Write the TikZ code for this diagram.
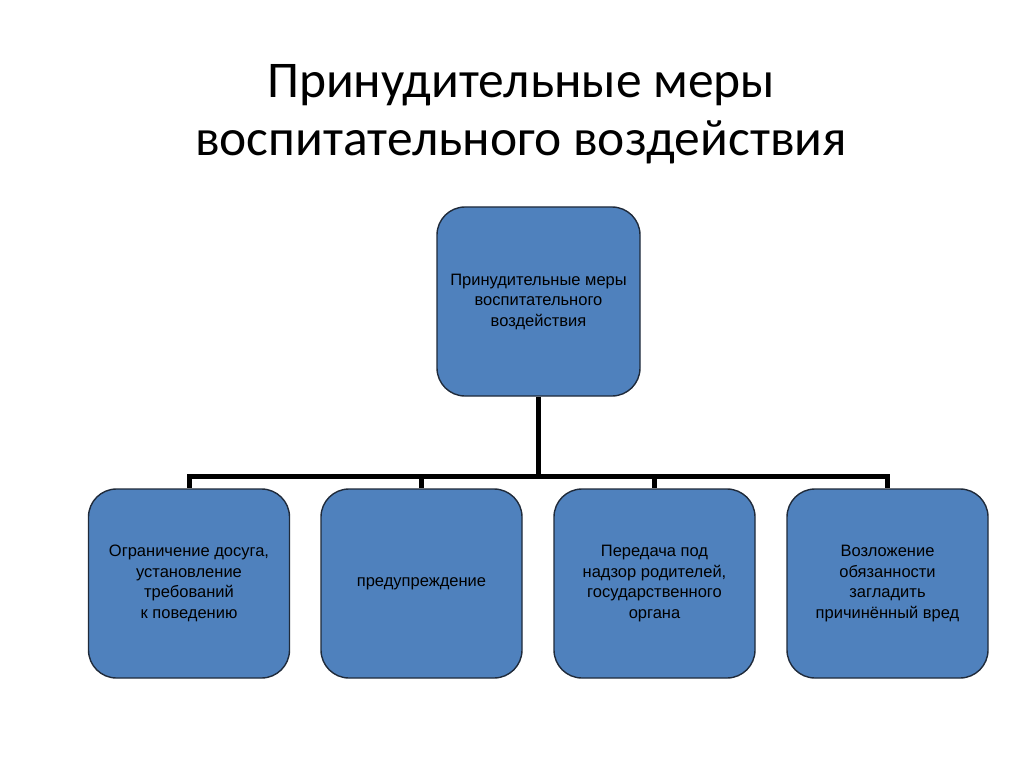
\documentclass[tikz,border=0pt]{standalone}
\usepackage{fontspec}
\setmainfont{Liberation Sans}
\newfontfamily\titlefont{Carlito}
\usetikzlibrary{positioning}

\definecolor{boxblue}{HTML}{4F81BD}
\definecolor{boxline}{HTML}{1F2A3A}

\tikzset{
    mbox/.style={draw=boxline, line width=1.4pt, fill=boxblue, rounded corners=28pt,
        minimum width=201pt, minimum height=189pt, align=center, text=black,
        font=\fontsize{16.5}{20.5}\selectfont, inner sep=2pt},
    conn/.style={line width=5pt, black, line join=miter}
}

\begin{document}
\begin{tikzpicture}[x=1pt,y=-1pt]
\useasboundingbox[fill=white] (0,0) rectangle (1024,767);

%заголовок
\node[font=\titlefont\fontsize{51.5}{58}\selectfont, align=center] (nTitle) at (521,114)
    {Принудительные меры\\воспитательного воздействия};

%главный блок
\node[mbox, minimum width=203pt] (nTop) at (538.5,301.5)
    {Принудительные меры\\воспитательного\\воздействия};

%нижний ряд
\node[mbox] (nA) at (189,583.5) {Ограничение досуга,\\установление\\требований\\к поведению};
\node[mbox] (nB) at (421.5,583.5) {предупреждение};
\node[mbox] (nC) at (654.5,583.5) {Передача под\\надзор родителей,\\государственного\\органа};
\node[mbox] (nD) at (887.5,583.5) {Возложение\\обязанности\\загладить\\причинённый вред};

%соединения
\coordinate (cBar) at (538.5,476);
\draw[conn] (nTop.south) -- (cBar);
\foreach \v in {nA,nB,nC,nD}
{
    \draw[conn] (cBar) -| (\v.north);
};

\end{tikzpicture}
\end{document}
